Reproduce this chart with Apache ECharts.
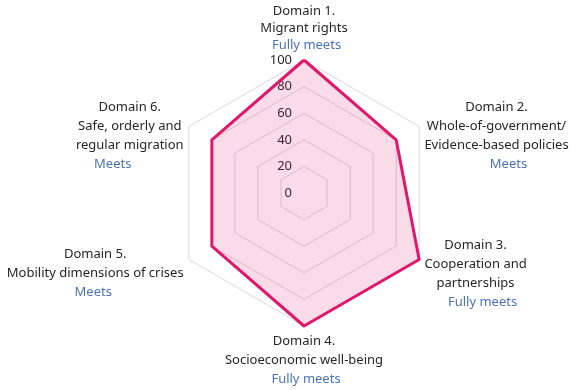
<!DOCTYPE html>
<html>
<head>
<meta charset="utf-8">
<script src="https://cdn.jsdelivr.net/npm/echarts@6/dist/echarts.min.js"></script>
<style>
html,body{margin:0;padding:0;background:#fff;}
#chart{width:584px;height:390px;}
</style>
</head>
<body>
<div id="chart"></div>
<script>
// domain names (lines) and rating, clockwise from top
var domains = [
	['Domain 1.', 'Migrant rights'],
	['Domain 2.', 'Whole-of-government/', 'Evidence-based policies'],
	['Domain 3.', 'Cooperation and', 'partnerships'],
	['Domain 4.', 'Socioeconomic well-being'],
	['Domain 5.', 'Mobility dimensions of crises'],
	['Domain 6.', 'Safe, orderly and', 'regular migration']
];
var ratings = ['Fully meets', 'Meets', 'Fully meets', 'Fully meets', 'Meets', 'Meets'];
var scores = [100, 80, 100, 100, 80, 80];
var maxScore = 100;

// small shifts of the rating line, like in the original
var ratingShift = [5, 24, 14, 4, -4, -34];
// extra space on top so side labels sit a bit lower
var topPad = [0, 24, 22, 0, 22, 24];
var lineH = [17, 19, 19, 19, 19, 19];

// echarts radar goes counter-clockwise, so walk the domains backwards
var order = [0, 5, 4, 3, 2, 1];

var myChart = echarts.init(document.getElementById('chart'));

var indicator = order.map(function (i, k) {
	var ind = { name: String(i), max: maxScore };
	if (k == 0) {
		ind.axisLabel = { show: true };
	}
	return ind;
});
var values = order.map(function (i) { return scores[i]; });

function nameFormatter(name) {
	var i = parseInt(name, 10);
	var out = [];
	if (topPad[i] > 0) out.push('{s' + i + '| }');
	domains[i].forEach(function (line) {
		out.push('{n' + i + '|' + line + '}');
	});
	out.push('{r' + i + '|' + ratings[i] + '}');
	return out.join('\n');
}

var rich = {};
for (var i = 0; i < domains.length; i++) {
	var s = ratingShift[i];
	rich['s' + i] = { lineHeight: topPad[i], fontSize: 2 };
	rich['n' + i] = {
		align: 'center', lineHeight: lineH[i], color: '#262626', fontSize: 13, fontFamily: 'Noto Sans'
	};
	rich['r' + i] = {
		align: 'center', lineHeight: lineH[i], color: '#4a72b5', fontSize: 13, fontFamily: 'Noto Sans',
		padding: [0, s < 0 ? -s : 0, 0, s > 0 ? s : 0]
	};
}

var option = {
	animation: false,
	radar: {
		center: [304, 193],
		radius: 133,
		startAngle: 90,
		shape: 'polygon',
		splitNumber: 5,
		indicator: indicator,
		axisName: {
			formatter: nameFormatter,
			rich: rich
		},
		nameGap: 6,
		axisLine: { show: false },
		axisTick: { show: false },
		axisLabel: {
			show: false,
			color: '#262626',
			fontSize: 13,
			fontFamily: 'Noto Sans',
			margin: 12
		},
		splitLine: { lineStyle: { color: '#d9d9d9', width: 1 } },
		splitArea: { show: false }
	},
	series: [{
		type: 'radar',
		symbol: 'none',
		lineStyle: { color: '#e0176b', width: 3 },
		areaStyle: { color: 'rgba(224,23,107,0.22)' },
		data: [{ value: values }]
	}]
};
myChart.setOption(option);
</script>
</body>
</html>
